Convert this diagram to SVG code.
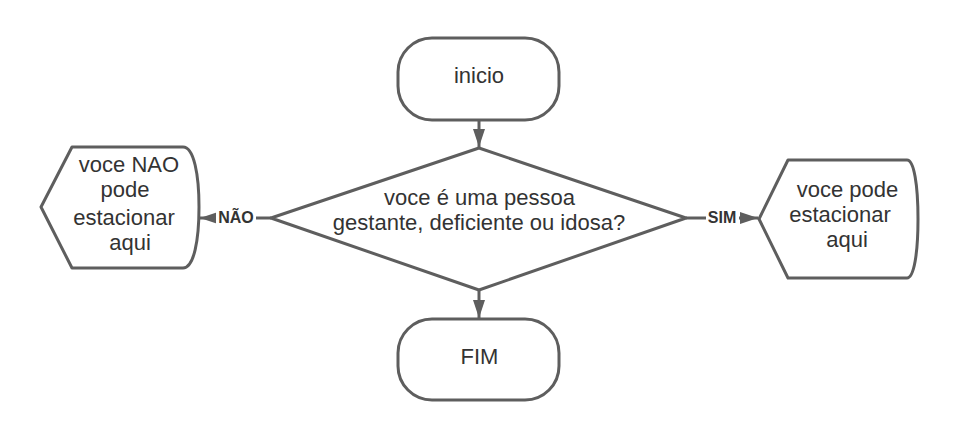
<svg xmlns="http://www.w3.org/2000/svg" width="959" height="440" viewBox="0 0 959 440">
<style>
.shape{fill:#ffffff;stroke:#5e5e5e;stroke-width:3;stroke-linejoin:round}
.edge{fill:none;stroke:#5e5e5e;stroke-width:3}
.t{font-family:"Liberation Sans",Arial,sans-serif;font-size:22px;fill:#333333;text-anchor:middle}
.lbl{font-family:"Liberation Sans",Arial,sans-serif;font-size:16px;font-weight:bold;fill:#333333;text-anchor:middle}
</style>
<defs>
<marker id="arr" viewBox="0 0 18 12" refX="18" refY="6" markerWidth="18" markerHeight="12" markerUnits="userSpaceOnUse" orient="auto">
<path d="M0,0 L18,6 L0,12 Z" fill="#5e5e5e"/>
</marker>
</defs>
<rect width="959" height="440" fill="#ffffff"/>
<g id="connectors">
<path class="edge" d="M479,121 L479,147" marker-end="url(#arr)"/>
<path class="edge" d="M479,290 L479,318" marker-end="url(#arr)"/>
<path class="edge" d="M271,218 L200,218" marker-end="url(#arr)"/>
<path class="edge" d="M686,218 L758,218" marker-end="url(#arr)"/>
<rect x="216" y="208" width="40" height="18" fill="#ffffff"/>
<text class="lbl" x="236" y="223">NÃO</text>
<rect x="706" y="208" width="33" height="18" fill="#ffffff"/>
<text class="lbl" x="722" y="223">SIM</text>
</g>
<g id="inicio">
<rect class="shape" x="398" y="38" width="161" height="82" rx="34" ry="34"/>
<text class="t" x="479" y="83">inicio</text>
</g>
<g id="decisao">
<path class="shape" d="M479,148 L686,218 L479,290 L271,218 Z"/>
<text class="t" x="479.5" y="205">voce é uma pessoa</text>
<text class="t" x="479" y="230">gestante, deficiente ou idosa?</text>
</g>
<g id="fim">
<rect class="shape" x="398" y="319" width="161" height="81" rx="34" ry="34"/>
<text class="t" x="479.5" y="364">FIM</text>
</g>
<g id="nao">
<path class="shape" d="M72,147 L183,147 C194,147 199,175 199,207 C199,240 194,268 183,268 L72,268 L41,207 Z"/>
<text class="t" x="129" y="172">voce NAO</text>
<text class="t" x="125" y="197">pode</text>
<text class="t" x="124" y="225">estacionar</text>
<text class="t" x="130" y="250">aqui</text>
</g>
<g id="sim">
<path class="shape" d="M788,160 L907,160 C914,160 918,185 918,219 C918,253 914,278 907,278 L788,278 L759,219 Z"/>
<text class="t" x="847.5" y="197">voce pode</text>
<text class="t" x="840" y="222">estacionar</text>
<text class="t" x="847" y="247">aqui</text>
</g>
</svg>
